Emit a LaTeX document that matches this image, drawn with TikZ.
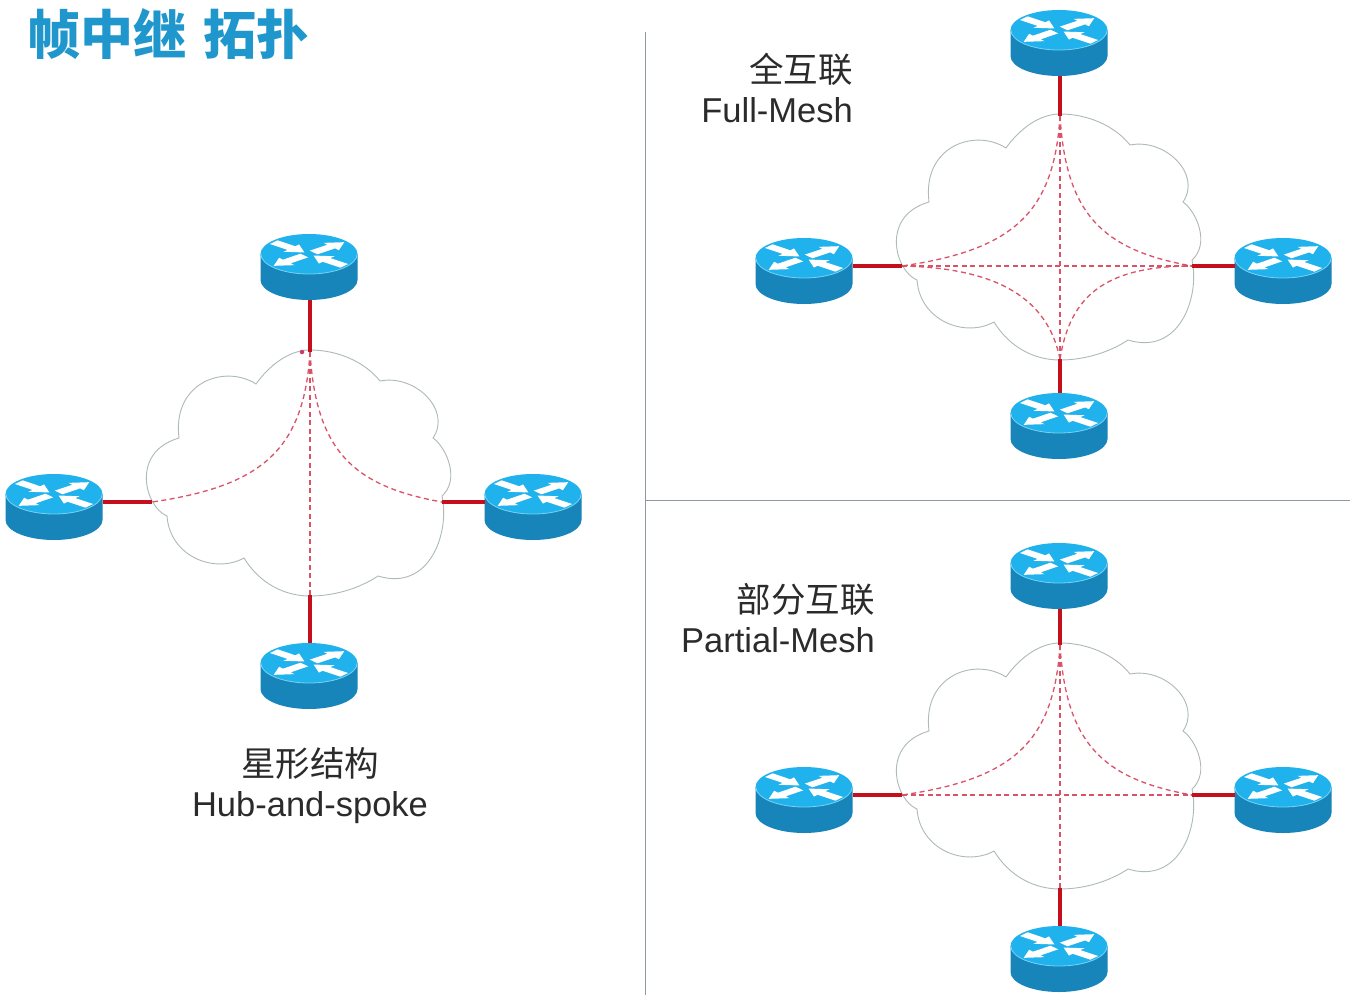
\documentclass[tikz,border=0pt]{standalone}
\usepackage{fontspec}
\setmainfont{Liberation Sans}
\newfontfamily\cjk{Noto Sans CJK SC}
\definecolor{rtop}{HTML}{1FB2EC}
\definecolor{rside}{HTML}{1784BA}
\definecolor{rrim}{HTML}{7AD2F2}
\definecolor{linkred}{HTML}{C4101C}
\definecolor{dashred}{HTML}{D95268}
\definecolor{cloudline}{HTML}{AEB9B9}
\definecolor{titleblue}{HTML}{1F96CC}
\definecolor{divline}{HTML}{8F9AA0}
\definecolor{txt}{HTML}{2B2B2B}
\tikzset{
  routerbox/.style={rectangle,minimum width=97pt,minimum height=66pt,inner sep=0pt,outer sep=0pt},
  linkline/.style={draw=linkred,line width=4.8pt},
  dashline/.style={draw=dashred,line width=1.3pt,dash pattern=on 5pt off 3.5pt},
  cloudshape/.style={draw=cloudline,line width=.9pt,fill=white},
  divider/.style={draw=divline,line width=.8pt},
  labeltext/.style={text=txt,inner sep=0pt,font=\fontsize{34.5}{40}\selectfont},
}
\newcommand{\rarrowout}[1]{\fill[white,rotate=#1] (6,-6) -- (29,-6) -- (29,-12) -- (46,0) -- (29,12) -- (29,6) -- (6,6) -- cycle;}
\newcommand{\rarrowin}[1]{\fill[white,rotate=#1] (46,-6) -- (23,-6) -- (23,-12) -- (6,0) -- (23,12) -- (23,6) -- (46,6) -- cycle;}
% name, x, y
\newcommand{\router}[3]{%
  \node[routerbox] (#1) at (#2,#3) {};
  \begin{scope}[shift={(#2,#3)}]
    \fill[rside] (-48.5,-13) -- (-48.5,13) arc[start angle=180,end angle=360,x radius=48.5,y radius=-20] -- (48.5,-13) -- cycle;
    \fill[rtop] (0,-13) ellipse[x radius=48.5,y radius=20];
    \draw[rrim,line width=.8pt] (-48.2,-13) arc[start angle=180,end angle=360,x radius=48.2,y radius=-20];
    \begin{scope}[shift={(0,-13)},yscale=.4]
      \rarrowout{40}\rarrowout{220}\rarrowin{140}\rarrowin{320}
    \end{scope}
  \end{scope}
}
% prefix, cx, cy
\newcommand{\cloudnet}[3]{%
  \begin{scope}[shift={(#2,#3)}]
    \draw[cloudshape] (0,-152)
      .. controls (28,-152) and (55,-140) .. (70,-121)
      .. controls (105,-128) and (142,-92) .. (123,-64)
      .. controls (137,-54) and (150,-22) .. (132,-6)
      .. controls (140,30) and (120,90) .. (68,74)
      .. controls (50,86) and (25,94) .. (0,94)
      .. controls (-25,94) and (-50,82) .. (-66,56)
      .. controls (-95,72) and (-140,55) .. (-143,14)
      .. controls (-165,5) and (-180,-50) .. (-131,-64)
      .. controls (-138,-120) and (-85,-138) .. (-54,-118)
      .. controls (-42,-135) and (-22,-152) .. (0,-152) -- cycle;
    \coordinate (#1T) at (0,-150);
    \coordinate (#1B) at (0,93);
    \coordinate (#1L) at (-158,0);
    \coordinate (#1R) at (132,0);
  \end{scope}
}
\begin{document}
\begin{tikzpicture}[x=1pt,y=-1pt]
\useasboundingbox (0,0) rectangle (1350,999);
\fill[white] (0,0) rectangle (1350,999);
% dividers
\coordinate (dv1) at (645,32);
\coordinate (dv2) at (645,995);
\coordinate (dh1) at (645,500);
\coordinate (dh2) at (1350,500);
\draw[divider] (dv1) -- (dv2);
\draw[divider] (dh1) -- (dh2);
% title
\node[anchor=west,inner sep=0pt,text=titleblue] (title) at (27,34) {\cjk\bfseries\fontsize{53}{60}\selectfont 帧中继\hspace{.33em}拓扑};
% clouds
\cloudnet{a}{310}{502}
\cloudnet{b}{1060}{266}
\cloudnet{c}{1060}{795}
% routers: star
\router{aTr}{309}{267}
\router{aLr}{54}{507}
\router{aRr}{533}{507}
\router{aBr}{309}{676}
% routers: full mesh
\router{bTr}{1059}{43}
\router{bLr}{804}{271}
\router{bRr}{1283}{271}
\router{bBr}{1059}{426}
% routers: partial mesh
\router{cTr}{1059}{576}
\router{cLr}{804}{800}
\router{cRr}{1283}{800}
\router{cBr}{1059}{959}
% links
\foreach \n in {a,b,c}{
  \draw[linkline] (\n T) -- (\n T |- \n Tr.south);
  \draw[linkline] (\n B) -- (\n B |- \n Br.north);
  \draw[linkline] (\n L) -- (\n L -| \n Lr.east);
  \draw[linkline] (\n R) -- (\n R -| \n Rr.west);
}
% dashed circuits: star
\draw[dashline] (aT) .. controls (304,450) and (262,486) .. (aL);
\draw[dashline] (aT) .. controls (316,450) and (352,486) .. (aR);
\draw[dashline] (aT) -- (aB);
% full mesh
\draw[dashline] (bT) .. controls (1054,214) and (1012,250) .. (bL);
\draw[dashline] (bT) .. controls (1066,214) and (1102,250) .. (bR);
\draw[dashline] (bB) .. controls (1048,300) and (1000,268) .. (bL);
\draw[dashline] (bB) .. controls (1070,296) and (1105,266) .. (bR);
\draw[dashline] (bT) -- (bB);
\draw[dashline] (bL) -- (bR);
% partial mesh
\draw[dashline] (cT) .. controls (1054,743) and (1012,779) .. (cL);
\draw[dashline] (cT) .. controls (1066,743) and (1102,779) .. (cR);
\draw[dashline] (cT) -- (cB);
\draw[dashline] (cL) -- (cR);
% stray dot
\node[circle,fill=dashred!70!purple,inner sep=0pt,minimum size=4.5pt] (dot) at (302,352) {};
% labels
\node[labeltext,anchor=east] (bl1) at (853,69) {\cjk 全互联};
\node[labeltext,anchor=base east] (bl2) at (853,122) {Full-Mesh};
\node[labeltext,anchor=east] (cl1) at (875,599) {\cjk 部分互联};
\node[labeltext,anchor=base east] (cl2) at (875,652) {Partial-Mesh};
\node[labeltext] (al1) at (310,763) {\cjk 星形结构};
\node[labeltext,anchor=base] (al2) at (310,816) {Hub-and-spoke};
\end{tikzpicture}
\end{document}
